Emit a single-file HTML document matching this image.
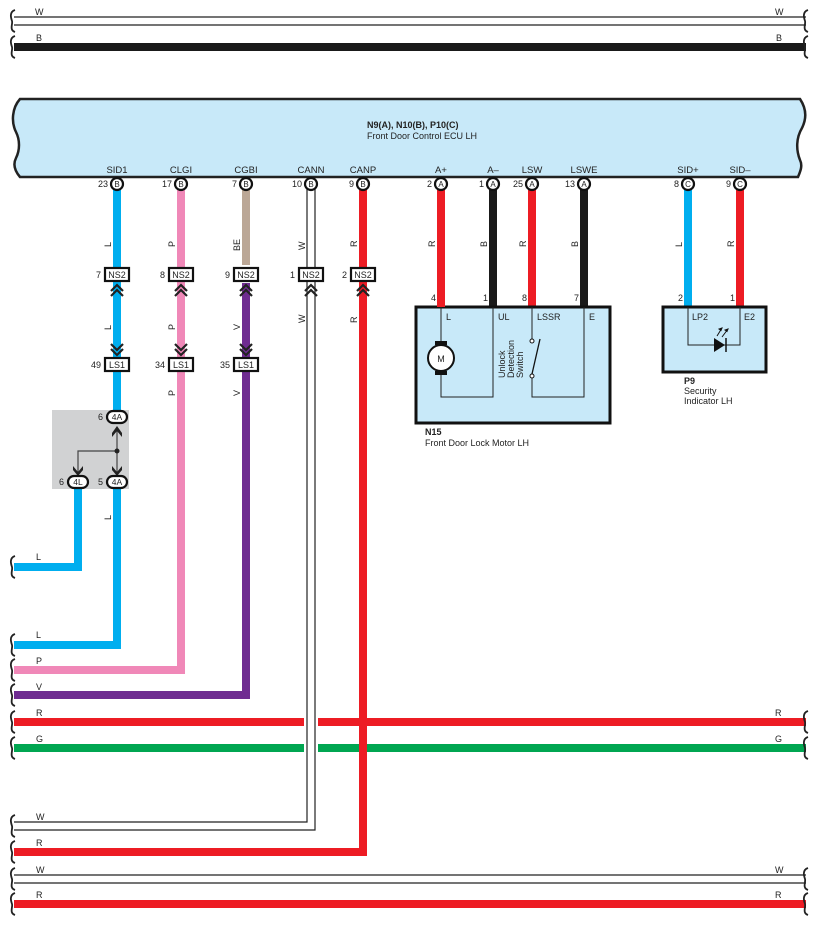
<!DOCTYPE html>
<html><head><meta charset="utf-8"><style>
html,body{margin:0;padding:0;background:#fff;}
svg{display:block;font-family:"Liberation Sans",Arial,sans-serif;}
</style></head><body>
<svg width="818" height="926" viewBox="0 0 818 926" xmlns="http://www.w3.org/2000/svg">
<defs>
<path id="br" d="M3,-11 C-3,-9 -1,-3 0,0 C1,3 -3,9 3,11" fill="none" stroke="#222" stroke-width="1.8"/>
<g id="up"><path d="M-6,6 L0,0 L6,6 M-6,11 L0,5 L6,11" fill="none" stroke="#222" stroke-width="2.2"/></g>
<g id="dn"><path d="M-6,-6 L0,0 L6,-6 M-6,-11 L0,-5 L6,-11" fill="none" stroke="#222" stroke-width="2.2"/></g>
</defs>
<g font-size="9" fill="#222">
<!-- top wires -->
<line x1="14" y1="17" x2="806" y2="17" stroke="#222" stroke-width="1.2"/>
<line x1="14" y1="25" x2="806" y2="25" stroke="#222" stroke-width="1.2"/>
<rect x="14" y="43" width="792" height="8" fill="#1a1a1a"/>
<use href="#br" x="12" y="21"/><use href="#br" x="12" y="47"/>
<use href="#br" x="805" y="21"/><use href="#br" x="805" y="47"/>
<text x="35" y="15">W</text><text x="775" y="15">W</text>
<text x="36" y="41">B</text><text x="776" y="41">B</text>

<!-- ECU -->
<path d="M20,99 L800,99 C806,108 807,118 802,128 C796,138 796,150 800,160 C803,166 800,172 798,177 L20,177 C14,170 13,164 16,158 C20,150 20,140 16,132 C11,122 12,108 20,99 Z" fill="#c8e9f9" stroke="#222" stroke-width="2.5"/>
<text x="367" y="128" font-weight="bold">N9(A), N10(B), P10(C)</text>
<text x="367" y="139">Front Door Control ECU LH</text>
<g text-anchor="middle" font-size="9.5">
<text x="117" y="173">SID1</text><text x="181" y="173">CLGI</text><text x="246" y="173">CGBI</text>
<text x="311" y="173">CANN</text><text x="363" y="173">CANP</text><text x="441" y="173">A+</text>
<text x="493" y="173">A–</text><text x="532" y="173">LSW</text><text x="584" y="173">LSWE</text>
<text x="688" y="173">SID+</text><text x="740" y="173">SID–</text>
</g>

<!-- long left-going wires -->
<rect x="14" y="641" width="107" height="8" fill="#00aeef"/>
<rect x="113" y="185" width="8" height="464" fill="#00aeef"/>
<rect x="14" y="563" width="68" height="8" fill="#00aeef"/>
<rect x="74" y="485" width="8" height="86" fill="#00aeef"/>
<rect x="14" y="666" width="171" height="8" fill="#f088b8"/>
<rect x="177" y="185" width="8" height="489" fill="#f088b8"/>
<rect x="242" y="185" width="8" height="80" fill="#bba796"/>
<rect x="14" y="691" width="236" height="8" fill="#6f2c91"/>
<rect x="242" y="283" width="8" height="416" fill="#6f2c91"/>
<rect x="14" y="718" width="792" height="8" fill="#ed1c24"/>
<rect x="14" y="744" width="792" height="8" fill="#00a651"/>
<rect x="304" y="185" width="14" height="650" fill="#fff"/>
<path d="M307,185 L307,822 L14,822 M315,185 L315,830 L14,830" fill="none" stroke="#222" stroke-width="1.2"/>
<rect x="359" y="185" width="8" height="671" fill="#ed1c24"/>
<rect x="14" y="848" width="353" height="8" fill="#ed1c24"/>
<line x1="14" y1="875" x2="806" y2="875" stroke="#222" stroke-width="1.2"/>
<line x1="14" y1="883" x2="806" y2="883" stroke="#222" stroke-width="1.2"/>
<rect x="14" y="900" width="792" height="8" fill="#ed1c24"/>
<g>
<use href="#br" x="12" y="567"/><use href="#br" x="12" y="645"/><use href="#br" x="12" y="670"/>
<use href="#br" x="12" y="695"/><use href="#br" x="12" y="722"/><use href="#br" x="12" y="748"/>
<use href="#br" x="12" y="826"/><use href="#br" x="12" y="852"/><use href="#br" x="12" y="879"/><use href="#br" x="12" y="904"/>
<use href="#br" x="805" y="722"/><use href="#br" x="805" y="748"/><use href="#br" x="805" y="879"/><use href="#br" x="805" y="904"/>
</g>
<text x="36" y="560">L</text><text x="36" y="638">L</text><text x="36" y="664">P</text><text x="36" y="690">V</text>
<text x="36" y="716">R</text><text x="36" y="742">G</text><text x="36" y="820">W</text><text x="36" y="846">R</text>
<text x="36" y="873">W</text><text x="36" y="898">R</text>
<text x="775" y="716">R</text><text x="775" y="742">G</text><text x="775" y="873">W</text><text x="775" y="898">R</text>

<!-- right side wires -->
<rect x="437" y="185" width="8" height="122" fill="#ed1c24"/>
<rect x="489" y="185" width="8" height="122" fill="#1a1a1a"/>
<rect x="528" y="185" width="8" height="122" fill="#ed1c24"/>
<rect x="580" y="185" width="8" height="122" fill="#1a1a1a"/>
<rect x="684" y="185" width="8" height="122" fill="#00aeef"/>
<rect x="736" y="185" width="8" height="122" fill="#ed1c24"/>

<!-- vertical wire labels -->
<g font-size="9">
<text transform="translate(111,247) rotate(-90)">L</text>
<text transform="translate(175,247) rotate(-90)">P</text>
<text transform="translate(240,251) rotate(-90)">BE</text>
<text transform="translate(305,250) rotate(-90)">W</text>
<text transform="translate(357,247) rotate(-90)">R</text>
<text transform="translate(111,330) rotate(-90)">L</text>
<text transform="translate(175,330) rotate(-90)">P</text>
<text transform="translate(240,330) rotate(-90)">V</text>
<text transform="translate(305,323) rotate(-90)">W</text>
<text transform="translate(357,323) rotate(-90)">R</text>
<text transform="translate(175,396) rotate(-90)">P</text>
<text transform="translate(240,396) rotate(-90)">V</text>
<text transform="translate(111,520) rotate(-90)">L</text>
<text transform="translate(435,247) rotate(-90)">R</text>
<text transform="translate(487,247) rotate(-90)">B</text>
<text transform="translate(526,247) rotate(-90)">R</text>
<text transform="translate(578,247) rotate(-90)">B</text>
<text transform="translate(682,247) rotate(-90)">L</text>
<text transform="translate(734,247) rotate(-90)">R</text>
</g>

<!-- ECU pin circles -->
<g stroke="#111" stroke-width="2.2" fill="#fff">
<circle cx="117" cy="184" r="6"/><circle cx="181" cy="184" r="6"/><circle cx="246" cy="184" r="6"/>
<circle cx="311" cy="184" r="6"/><circle cx="363" cy="184" r="6"/><circle cx="441" cy="184" r="6"/>
<circle cx="493" cy="184" r="6"/><circle cx="532" cy="184" r="6"/><circle cx="584" cy="184" r="6"/>
<circle cx="688" cy="184" r="6"/><circle cx="740" cy="184" r="6"/>
</g>
<g text-anchor="middle" font-size="8">
<text x="117" y="187">B</text><text x="181" y="187">B</text><text x="246" y="187">B</text><text x="311" y="187">B</text><text x="363" y="187">B</text>
<text x="441" y="187">A</text><text x="493" y="187">A</text><text x="532" y="187">A</text><text x="584" y="187">A</text>
<text x="688" y="187">C</text><text x="740" y="187">C</text>
</g>
<g text-anchor="end" font-size="9">
<text x="108" y="187">23</text><text x="172" y="187">17</text><text x="237" y="187">7</text><text x="302" y="187">10</text><text x="354" y="187">9</text>
<text x="432" y="187">2</text><text x="484" y="187">1</text><text x="523" y="187">25</text><text x="575" y="187">13</text>
<text x="679" y="187">8</text><text x="731" y="187">9</text>
</g>

<!-- NS2 -->
<g stroke="#111" stroke-width="2.2" fill="#fff">
<rect x="105" y="268" width="24" height="13"/><rect x="169" y="268" width="24" height="13"/>
<rect x="234" y="268" width="24" height="13"/><rect x="299" y="268" width="24" height="13"/>
<rect x="351" y="268" width="24" height="13"/>
<rect x="105" y="358" width="24" height="13"/><rect x="169" y="358" width="24" height="13"/>
<rect x="234" y="358" width="24" height="13"/>
</g>
<g text-anchor="middle" font-size="9">
<text x="117" y="278">NS2</text><text x="181" y="278">NS2</text><text x="246" y="278">NS2</text><text x="311" y="278">NS2</text><text x="363" y="278">NS2</text>
<text x="117" y="368">LS1</text><text x="181" y="368">LS1</text><text x="246" y="368">LS1</text>
</g>
<g text-anchor="end" font-size="9">
<text x="101" y="278">7</text><text x="165" y="278">8</text><text x="230" y="278">9</text><text x="295" y="278">1</text><text x="347" y="278">2</text>
<text x="101" y="368">49</text><text x="165" y="368">34</text><text x="230" y="368">35</text>
</g>
<use href="#up" x="117" y="285"/><use href="#up" x="181" y="285"/><use href="#up" x="246" y="285"/><use href="#up" x="311" y="285"/><use href="#up" x="363" y="285"/>
<use href="#dn" x="117" y="355"/><use href="#dn" x="181" y="355"/><use href="#dn" x="246" y="355"/>

<!-- junction box -->
<rect x="52" y="410" width="77" height="79" fill="#d1d2d3"/>
<rect x="113" y="410" width="8" height="5" fill="#00aeef"/>
<path d="M117,428 L117,472 M117,451 L78,451 L78,472" fill="none" stroke="#444" stroke-width="1.2"/>
<circle cx="117" cy="451" r="2.5" fill="#222"/>
<path d="M112,433 L117,426 L122,433 L122,437 L117,431 L112,437 Z" fill="#222"/>
<path d="M112,466 L117,472 L122,466 L122,470 L117,476 L112,470 Z" fill="#222"/>
<path d="M73,466 L78,472 L83,466 L83,470 L78,476 L73,470 Z" fill="#222"/>
<g stroke="#111" stroke-width="2.2" fill="#fff">
<rect x="107" y="411" width="20" height="12" rx="6"/>
<rect x="107" y="476" width="20" height="12" rx="6"/>
<rect x="68" y="476" width="20" height="12" rx="6"/>
</g>
<g text-anchor="middle" font-size="8.5"><text x="117" y="420">4A</text><text x="117" y="485">4A</text><text x="78" y="485">4L</text></g>
<text x="103" y="420" text-anchor="end">6</text><text x="103" y="485" text-anchor="end">5</text><text x="64" y="485" text-anchor="end">6</text>

<!-- N15 -->
<rect x="416" y="307" width="194" height="116" fill="#c8e9f9" stroke="#111" stroke-width="3"/>
<rect x="437" y="302" width="8" height="5" fill="#ed1c24"/>
<path d="M441,307 L441,342 M441,370 L441,397 L493,397 L493,307 M532,307 L532,340 M532,376 L532,397 L584,397 L584,307" fill="none" stroke="#222" stroke-width="1"/>
<circle cx="441" cy="358" r="13" fill="#fff" stroke="#111" stroke-width="2"/>
<rect x="435" y="341" width="12" height="4" fill="#111"/><rect x="435" y="371" width="12" height="4" fill="#111"/>
<text x="441" y="362" text-anchor="middle" font-size="9">M</text>
<circle cx="532" cy="341" r="2" fill="#fff" stroke="#111"/><circle cx="532" cy="376" r="2" fill="#fff" stroke="#111"/>
<line x1="532" y1="374" x2="540" y2="339" stroke="#111" stroke-width="1.3"/>
<text x="446" y="320" font-size="9">L</text><text x="498" y="320" font-size="9">UL</text><text x="537" y="320" font-size="9">LSSR</text><text x="589" y="320" font-size="9">E</text>
<g font-size="9"><text transform="translate(505,378) rotate(-90)">Unlock</text><text transform="translate(514,378) rotate(-90)">Detection</text><text transform="translate(523,378) rotate(-90)">Switch</text></g>
<g text-anchor="end" font-size="9"><text x="436" y="301">4</text><text x="488" y="301">1</text><text x="527" y="301">8</text><text x="579" y="301">7</text><text x="683" y="301">2</text><text x="735" y="301">1</text></g>
<text x="425" y="435" font-weight="bold" font-size="9">N15</text>
<text x="425" y="446" font-size="9">Front Door Lock Motor LH</text>

<!-- P9 -->
<rect x="663" y="307" width="103" height="65" fill="#c8e9f9" stroke="#111" stroke-width="3"/>
<path d="M688,307 L688,345 L740,345 L740,307" fill="none" stroke="#222" stroke-width="1"/>
<path d="M714,338 L714,352 L725,345 Z" fill="#111"/><line x1="726" y1="338" x2="726" y2="352" stroke="#111" stroke-width="1.5"/>
<path d="M717,336 L722,328 M722,337 L728,329" stroke="#111" stroke-width="1" fill="none"/>
<path d="M722,328 l-3,1 l2,1.5 z M728,329 l-3,1 l2,1.5 z" fill="#111" stroke="#111"/>
<text x="692" y="320" font-size="9">LP2</text><text x="744" y="320" font-size="9">E2</text>
<text x="684" y="384" font-weight="bold" font-size="9">P9</text>
<text x="684" y="394" font-size="9">Security</text>
<text x="684" y="404" font-size="9">Indicator LH</text>
</g>
</svg>
</body></html>
